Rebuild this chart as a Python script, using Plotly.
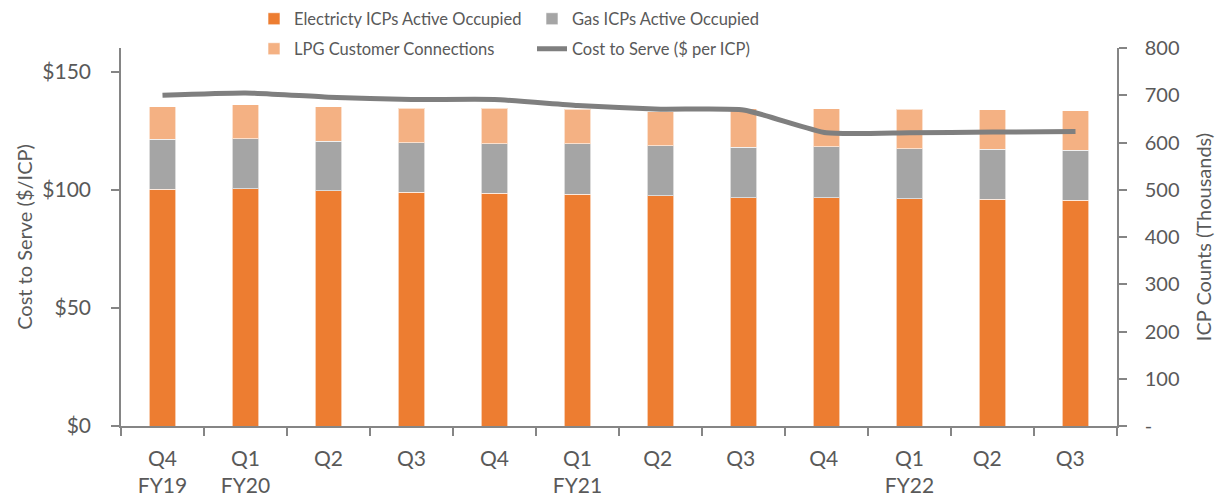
import plotly.graph_objects as go

# Quarter labels (two-line: quarter / financial year)
quarters = ["Q4<br>FY19", "Q1<br>FY20", "Q2", "Q3", "Q4", "Q1<br>FY21",
            "Q2 ", "Q3 ", "Q4 ", "Q1<br>FY22", "Q2  ", "Q3  "]

# ICP counts in thousands
electricity = [501, 502, 498, 495, 493, 491, 487, 483, 483, 481, 480, 478]
gas = [106, 106, 105, 105, 104, 106, 106, 107, 108, 106, 106, 106]
lpg = [69, 72, 73, 73, 76, 73, 72, 81, 80, 83, 83, 83]

# Cost to serve, $ per ICP
cost_to_serve = [140.0, 141.0, 139.2, 138.2, 138.2, 135.7, 134.1, 133.8,
                 124.1, 124.1, 124.4, 124.7]

right_ticks = [0, 100, 200, 300, 400, 500, 600, 700, 800]
right_ticktext = ["-", "100", "200", "300", "400", "500", "600", "700", "800"]
left_ticks = [0, 50, 100, 150]
left_ticktext = ["$0", "$50", "$100", "$150"]

FONT = "Lato, sans-serif"
TXT = "#595959"
AX = "#858585"

# the page adds an 8px body margin, so the figure is sized to fit inside it
W, H = 1216, 493

fig = go.Figure()

bar_line = dict(color="rgba(255,255,255,0.6)", width=1)

fig.add_trace(go.Bar(x=quarters, y=electricity, name="Electricty ICPs Active Occupied",
                     marker=dict(color="#ED7D31", line=bar_line), yaxis="y", legend="legend"))
fig.add_trace(go.Bar(x=quarters, y=gas, name="Gas ICPs Active Occupied",
                     marker=dict(color="#A5A5A5", line=bar_line), yaxis="y", legend="legend"))
fig.add_trace(go.Bar(x=quarters, y=lpg, name="LPG Customer Connections",
                     marker=dict(color="#F4B183", line=bar_line), yaxis="y", legend="legend2"))

# line drawn on the overlaying axis so it sits on top of the bars
fig.add_trace(go.Scatter(x=quarters, y=cost_to_serve, name="Cost to Serve ($ per ICP)",
                         mode="lines", line=dict(color="#7F7F7F", width=5, shape="spline", smoothing=0.5),
                         yaxis="y2", legend="legend2"))

legend_common = dict(orientation="h", xref="container", yref="container",
                     xanchor="left", yanchor="middle",
                     entrywidth=233, entrywidthmode="pixels", bgcolor="rgba(0,0,0,0)",
                     font=dict(family=FONT, size=16.5, color=TXT), traceorder="normal")

fig.update_layout(
    width=W,
    height=H,
    barmode="stack",
    bargap=0.68,
    plot_bgcolor="#FFFFFF",
    paper_bgcolor="#FFFFFF",
    margin=dict(l=113, r=107, t=40, b=75, autoexpand=False),
    font=dict(family=FONT, size=20, color=TXT),
    legend=dict(legend_common, x=246 / W, y=1 - 11 / H),
    legend2=dict(legend_common, x=246 / W, y=1 - 41 / H),
    xaxis=dict(
        type="category", automargin=False,
        showline=True, linecolor=AX, linewidth=1.5,
        ticks="outside", tickson="boundaries", ticklen=8, tickcolor=AX, tickwidth=1.5,
        ticklabelstandoff=13,
        showgrid=False, tickfont=dict(size=21, color=TXT),
    ),
    yaxis=dict(
        side="right", range=[0, 800], tickvals=right_ticks, ticktext=right_ticktext,
        automargin=False,
        showline=True, linecolor=AX, linewidth=1.5,
        ticks="outside", ticklen=8, tickcolor=AX, tickwidth=1.5,
        ticklabelstandoff=14,
        showgrid=False, zeroline=False,
        title=dict(text="ICP Counts (Thousands)", font=dict(size=20, color=TXT), standoff=18),
        tickfont=dict(size=20, color=TXT),
    ),
    yaxis2=dict(
        side="left", overlaying="y", range=[0, 160], tickvals=left_ticks, ticktext=left_ticktext,
        automargin=False,
        showline=True, linecolor=AX, linewidth=1.5,
        ticks="outside", ticklen=8, tickcolor=AX, tickwidth=1.5,
        ticklabelstandoff=16,
        showgrid=False, zeroline=False,
        title=dict(text="Cost to Serve ($/ICP)", font=dict(size=20, color=TXT), standoff=4),
        tickfont=dict(size=21, color=TXT),
    ),
)

fig.write_html("out.html")
